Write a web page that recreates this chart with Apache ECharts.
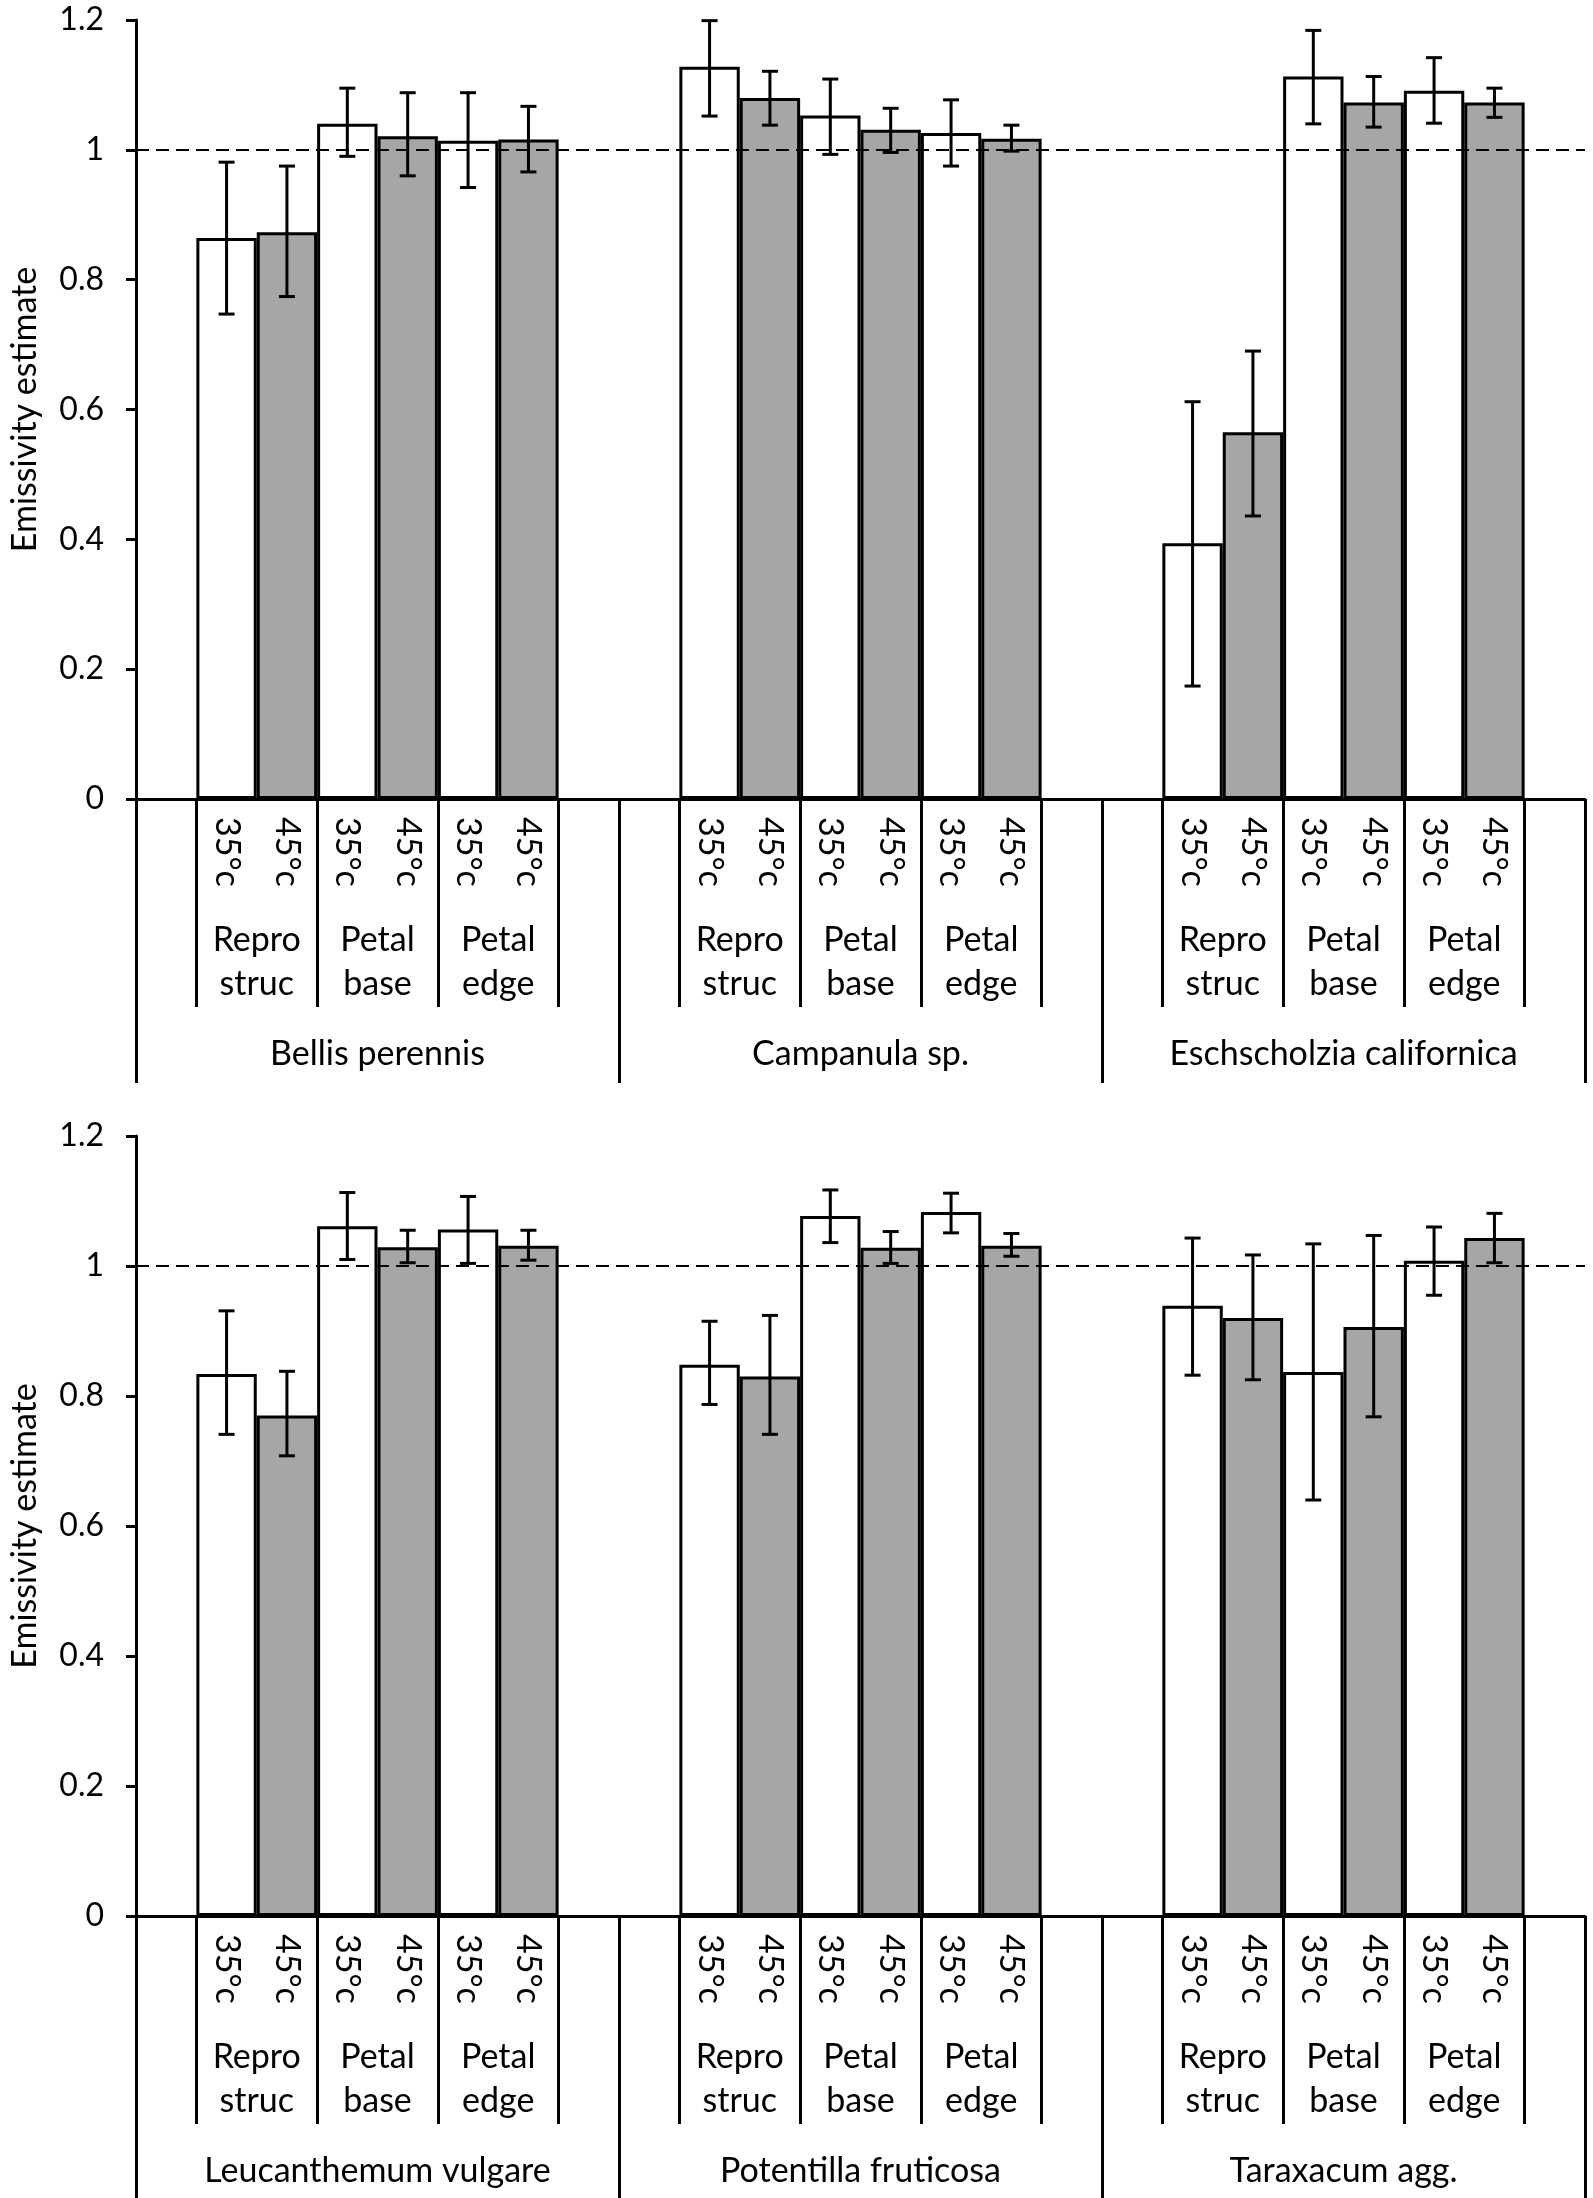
<!DOCTYPE html>
<html><head><meta charset="utf-8">
<script src="https://cdn.jsdelivr.net/npm/echarts@6/dist/echarts.min.js"></script>
<style>html,body{margin:0;padding:0;background:#fff}#c{width:1593px;height:2198px}</style>
</head><body><div id="c"></div>
<script>
// ---------------- DATA ----------------
const speciesTop = ['Bellis perennis', 'Campanula sp.', 'Eschscholzia californica'];
const speciesBottom = ['Leucanthemum vulgare', 'Potentilla fruticosa', 'Taraxacum agg.'];
const parts = ['Repro\nstruc', 'Petal\nbase', 'Petal\nedge'];
const temps = ['35°c', '45°c'];
const yMin = 0, yMax = 1.2, yStep = 0.2;
const refLine = 1;

// order in each array: Repro 35, Repro 45, Base 35, Base 45, Edge 35, Edge 45
const bellisMean = [0.864, 0.873, 1.040, 1.021, 1.014, 1.016];
const bellisLow  = [0.747, 0.774, 0.990, 0.960, 0.942, 0.966];
const bellisHigh = [0.981, 0.975, 1.095, 1.088, 1.088, 1.067];

const campanulaMean = [1.128, 1.080, 1.053, 1.031, 1.026, 1.017];
const campanulaLow  = [1.052, 1.038, 0.993, 0.996, 0.975, 0.998];
const campanulaHigh = [1.199, 1.121, 1.109, 1.064, 1.077, 1.038];

const eschMean = [0.394, 0.565, 1.113, 1.073, 1.091, 1.073];
const eschLow  = [0.174, 0.436, 1.040, 1.035, 1.041, 1.050];
const eschHigh = [0.612, 0.690, 1.184, 1.113, 1.142, 1.095];

const leucMean = [0.834, 0.770, 1.061, 1.029, 1.056, 1.031];
const leucLow  = [0.741, 0.708, 1.010, 1.005, 1.004, 1.009];
const leucHigh = [0.931, 0.838, 1.113, 1.055, 1.107, 1.055];

const potMean = [0.848, 0.830, 1.077, 1.028, 1.083, 1.031];
const potLow  = [0.787, 0.741, 1.036, 1.004, 1.051, 1.015];
const potHigh = [0.915, 0.924, 1.117, 1.053, 1.112, 1.050];

const taraMean = [0.939, 0.920, 0.837, 0.906, 1.008, 1.043];
const taraLow  = [0.832, 0.825, 0.640, 0.768, 0.955, 1.005];
const taraHigh = [1.043, 1.017, 1.034, 1.047, 1.060, 1.081];

// ---------------- BUILD ----------------
const FONT = 'Lato';
const FS = 34;
const WHITE = '#ffffff', GRAY = '#a6a6a6';
const SLOTS = 24; // 3 species x 8 slots (1 empty + 6 bars + 1 empty)

const panels = [
  { species: speciesTop, means: [bellisMean, campanulaMean, eschMean], lows: [bellisLow, campanulaLow, eschLow], highs: [bellisHigh, campanulaHigh, eschHigh] },
  { species: speciesBottom, means: [leucMean, potMean, taraMean], lows: [leucLow, potLow, taraLow], highs: [leucHigh, potHigh, taraHigh] }
];

const slotIds = [];
const tempLabels = [];
for (let k = 0; k < 3; k++) {
  for (let s = 0; s < 8; s++) {
    slotIds.push('s' + (k * 8 + s));
    tempLabels.push(s >= 1 && s <= 6 ? temps[(s - 1) % 2] : '');
  }
}
const partTicks = [], partLabelPos = [], partLabelMap = {};
const speciesTicks = [0], speciesLabelPos = [];
for (let k = 0; k < 3; k++) {
  const base = k * 8;
  [1, 3, 5, 7].forEach(o => partTicks.push(base + o));
  parts.forEach((p, j) => { partLabelPos.push(base + 2 + 2 * j); partLabelMap[base + 2 + 2 * j] = p; });
  speciesTicks.push(base + 8);
  speciesLabelPos.push(base + 4);
}

const grids = [
  { left: 134, right: 8, top: 20, height: 779 },
  { left: 134, right: 8, top: 1136, height: 780 }
];

const txt = { fontFamily: FONT, fontSize: FS, color: '#000' };
const xAxes = [], yAxes = [], series = [];

panels.forEach((pn, g) => {
  const catIdx = xAxes.length;
  xAxes.push({
    type: 'category', gridIndex: g, data: slotIds, boundaryGap: true, position: 'bottom',
    axisLine: { show: true, onZero: false, lineStyle: { color: '#000', width: 3 } },
    axisTick: { show: false },
    axisLabel: Object.assign({ interval: 0, rotate: -90, margin: 18, formatter: (v, i) => tempLabels[i] }, txt),
    splitLine: { show: false }
  });
  xAxes.push({
    type: 'value', gridIndex: g, min: 0, max: SLOTS, position: 'bottom',
    axisLine: { show: false, onZero: false },
    splitLine: { show: false },
    axisTick: { show: true, customValues: partTicks, length: 208, inside: false, lineStyle: { color: '#000', width: 3 } },
    axisLabel: Object.assign({ customValues: partLabelPos, margin: 119, lineHeight: 44, formatter: v => partLabelMap[Math.round(v)] || '' }, txt)
  });
  const sp = pn.species;
  xAxes.push({
    type: 'value', gridIndex: g, min: 0, max: SLOTS, position: 'bottom',
    axisLine: { show: false, onZero: false },
    splitLine: { show: false },
    axisTick: { show: true, customValues: speciesTicks, length: 284, inside: false, lineStyle: { color: '#000', width: 3 } },
    axisLabel: Object.assign({ customValues: speciesLabelPos, margin: 237, lineHeight: 36, formatter: v => sp[Math.round((v - 4) / 8)] || '' }, txt)
  });
  yAxes.push({
    type: 'value', gridIndex: g, min: yMin, max: yMax, interval: yStep,
    axisLine: { show: true, lineStyle: { color: '#000', width: 3 } },
    axisTick: { show: true, length: 10, lineStyle: { color: '#000', width: 3 } },
    splitLine: { show: false },
    axisLabel: { fontFamily: FONT, fontSize: 32, color: '#000', margin: 32 },
    name: 'Emissivity estimate', nameLocation: 'middle', nameGap: 94,
    nameTextStyle: Object.assign({}, txt)
  });

  const barData = [], errData = [];
  for (let k = 0; k < 3; k++) {
    barData.push(null);
    for (let j = 0; j < 6; j++) {
      const idx = k * 8 + 1 + j;
      barData.push({ value: pn.means[k][j], itemStyle: { color: j % 2 === 0 ? WHITE : GRAY } });
      errData.push([idx, pn.lows[k][j], pn.highs[k][j]]);
    }
    barData.push(null);
  }
  series.push({
    type: 'bar', xAxisIndex: catIdx, yAxisIndex: g, data: barData, barWidth: '100%', barGap: '0%',
    itemStyle: { borderColor: '#000', borderWidth: 3 },
    markLine: {
      silent: true, symbol: 'none', label: { show: false },
      lineStyle: { color: '#000', width: 2, type: [13, 7] },
      data: [{ yAxis: refLine }]
    },
    z: 2
  });
  series.push({
    type: 'custom', xAxisIndex: catIdx, yAxisIndex: g, data: errData, z: 5,
    encode: { x: 0, y: [1, 2] },
    renderItem: (params, api) => {
      const x = api.value(0);
      const a = api.coord([x, api.value(1)]);
      const b = api.coord([x, api.value(2)]);
      const hw = 8;
      const st = { stroke: '#000', lineWidth: 3 };
      return { type: 'group', children: [
        { type: 'line', shape: { x1: a[0], y1: a[1], x2: b[0], y2: b[1] }, style: st },
        { type: 'line', shape: { x1: a[0] - hw, y1: a[1], x2: a[0] + hw, y2: a[1] }, style: st },
        { type: 'line', shape: { x1: b[0] - hw, y1: b[1], x2: b[0] + hw, y2: b[1] }, style: st }
      ] };
    }
  });
});

const chart = echarts.init(document.getElementById('c'), null, { renderer: 'canvas' });
chart.setOption({
  animation: false,
  backgroundColor: '#fff',
  grid: grids,
  xAxis: xAxes,
  yAxis: yAxes,
  series: series
});
</script>
</body></html>
